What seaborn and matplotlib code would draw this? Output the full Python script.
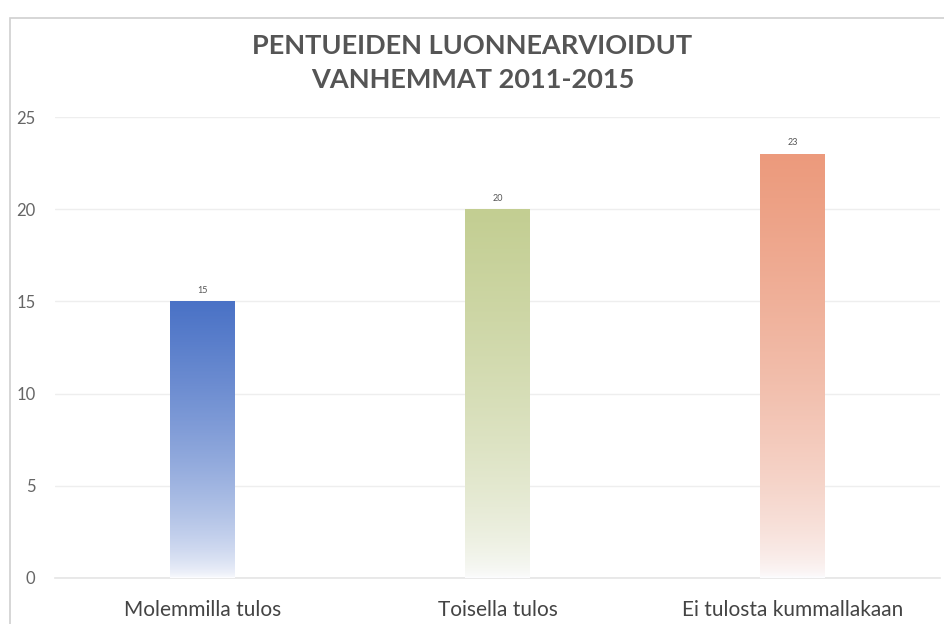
import numpy as np
import pandas as pd
import matplotlib.pyplot as plt
import seaborn as sns
from matplotlib.colors import LinearSegmentedColormap
from matplotlib.patches import Rectangle

sns.set_theme(style="white")
plt.rcParams['font.family'] = ['Lato', 'DejaVu Sans']

categories = ["Molemmilla tulos", "Toisella tulos", "Ei tulosta kummallakaan"]
values = [15, 20, 23]
colors = ["#4A72C6", "#C3CE92", "#EC9A7C"]
yticks = [0, 5, 10, 15, 20, 25]
title = "PENTUEIDEN LUONNEARVIOIDUT\nVANHEMMAT 2011-2015"

df = pd.DataFrame({"kategoria": categories, "arvo": values})

fig = plt.figure(figsize=(9.45, 6.24), dpi=100)
ax = fig.add_axes([55 / 945, 1 - 578 / 624, 885 / 945, (578 - 117) / 624])

sns.barplot(data=df, x="kategoria", y="arvo", ax=ax, width=0.22,
            color="white", edgecolor="none", zorder=3)

# liukuväri palkkeihin: ylhäällä täysi väri, alhaalla lähes valkoinen
for patch, col in zip(ax.patches, colors):
    x0, y0 = patch.get_x(), patch.get_y()
    w, h = patch.get_width(), patch.get_height()
    cmap = LinearSegmentedColormap.from_list("g", ["#FCFCFE", col])
    grad = np.linspace(0, 1, 256).reshape(-1, 1) ** 0.6
    im = ax.imshow(grad, cmap=cmap, origin="lower", aspect="auto",
                   extent=[x0, x0 + w, y0, y0 + h], zorder=3)
    im.set_clip_path(patch)
    ax.text(x0 + w / 2, h + 0.35, f"{int(h)}", ha="center", va="bottom",
            fontsize=6.5, color="#555555", zorder=4)

ax.set_xlim(-0.5, 2.5)
ax.set_ylim(0, 25)
ax.set_yticks(yticks)
ax.yaxis.grid(True, color="#EEEEEE", linewidth=1)
ax.set_axisbelow(True)
for s in ["top", "right", "left"]:
    ax.spines[s].set_visible(False)
ax.spines["bottom"].set_color("#E6E6E6")
ax.set_xlabel("")
ax.set_ylabel("")
ax.tick_params(axis="y", labelsize=12, labelcolor="#666666", pad=14, length=0)
ax.tick_params(axis="x", labelsize=15, labelcolor="#444444", pad=16, length=0)

fig.text(0.5, 1 - 63 / 624, title, ha="center", va="center", fontsize=19.5,
         fontweight="bold", color="#555555", linespacing=1.5)

# kehys
fig.patches.append(Rectangle((10 / 945, -0.01), 1.0, 1 - 18 / 624 + 0.01,
                             transform=fig.transFigure, fill=False,
                             edgecolor="#D0D0D0", linewidth=1.2, zorder=0))

fig.savefig("out.png", dpi=100)
